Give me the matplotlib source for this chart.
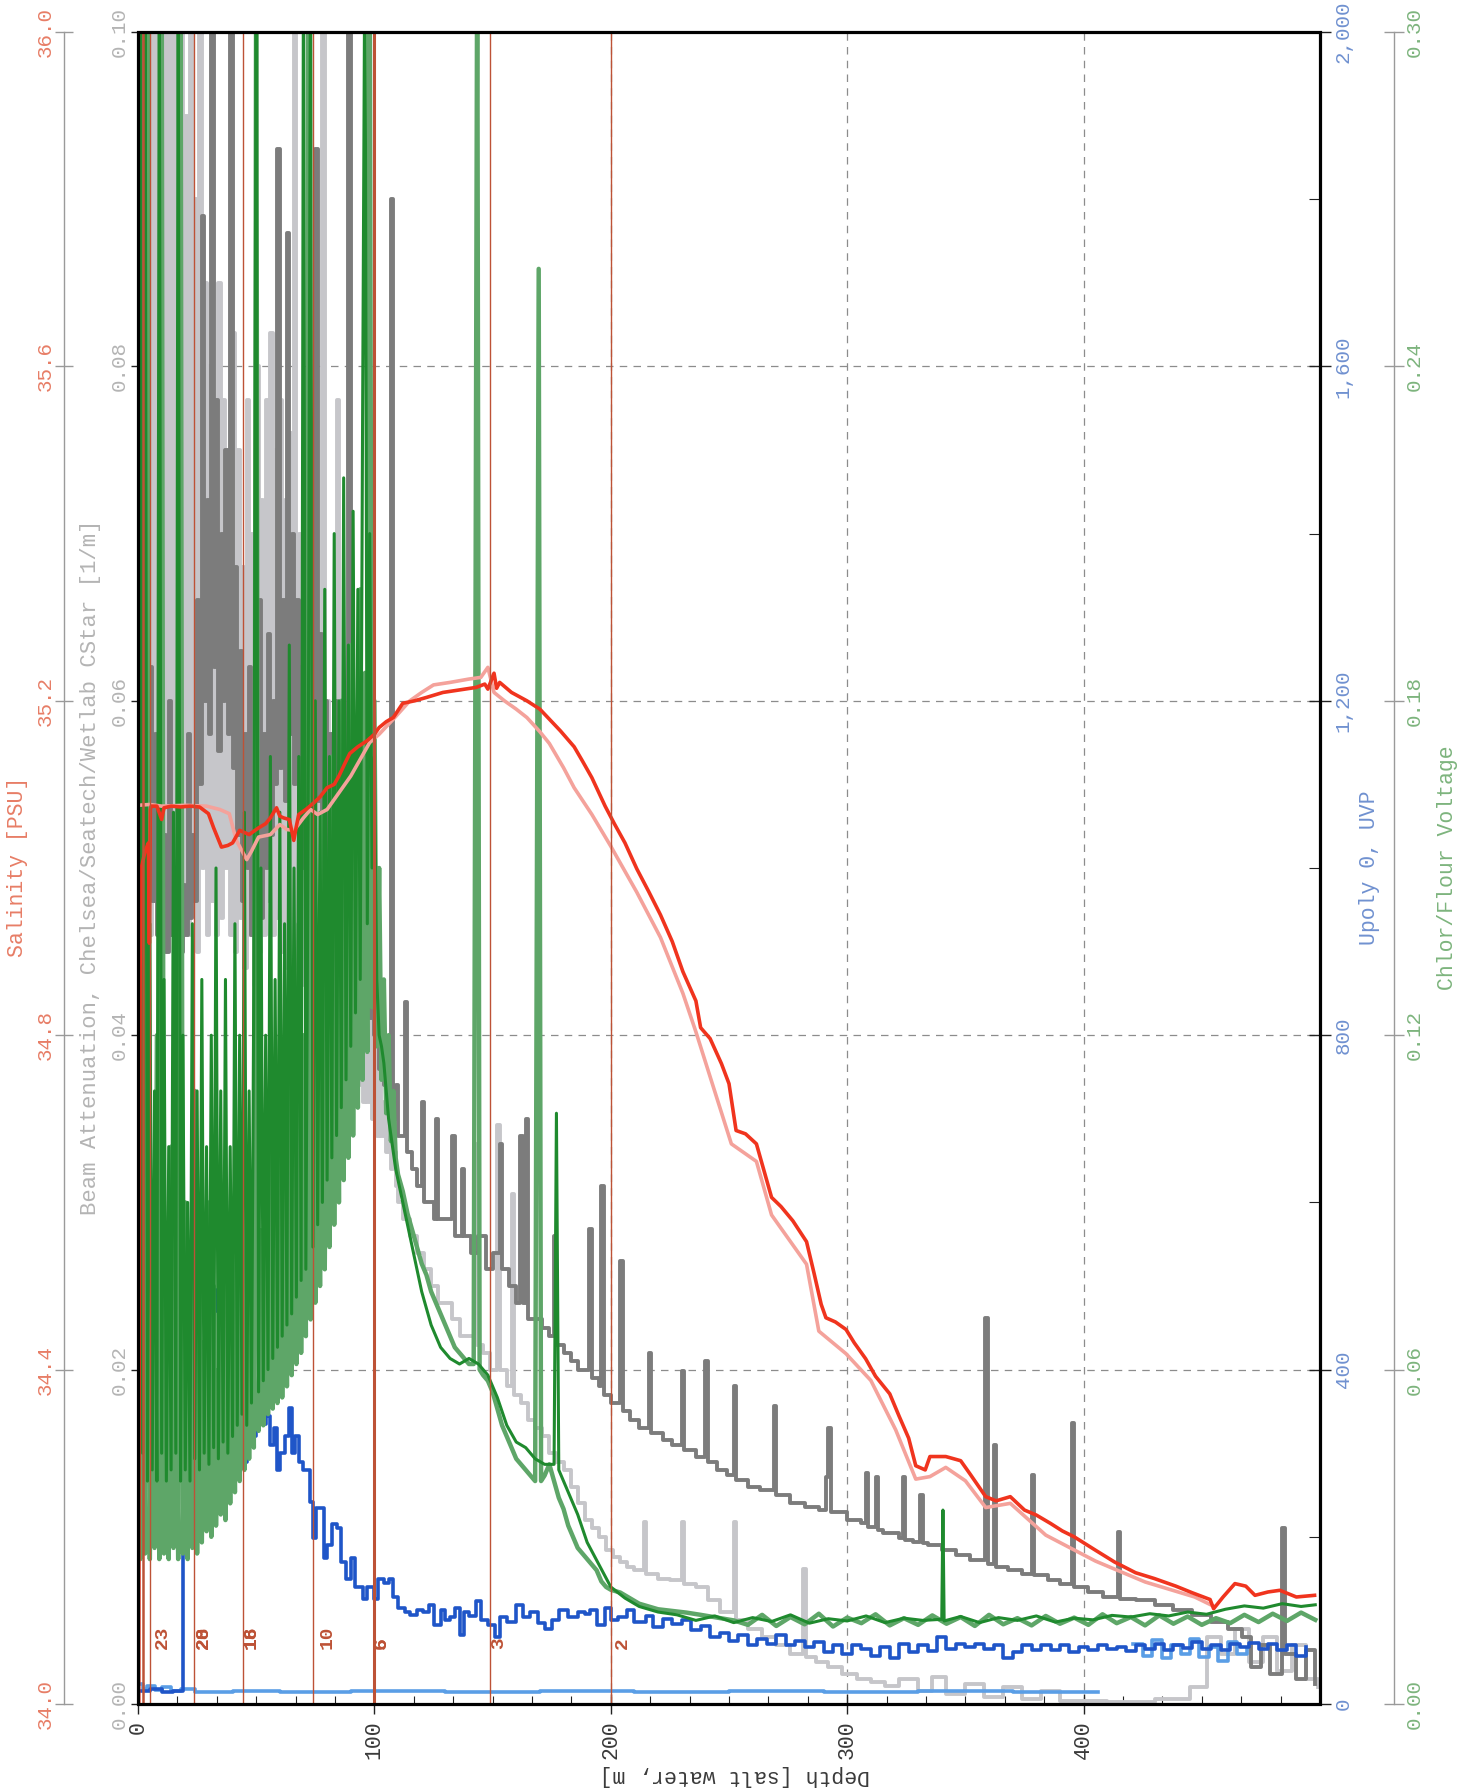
import numpy as np
import matplotlib.pyplot as plt
from matplotlib.ticker import MultipleLocator, FuncFormatter, FormatStrFormatter
from matplotlib.transforms import blended_transform_factory
from matplotlib.patches import Rectangle

plt.rcParams['font.family'] = ['Liberation Mono', 'DejaVu Sans Mono']

# ---------------------------------------------------------------- data
# 1 m bins of the noisy upper layer (0-110 m)
top_depth = np.arange(0, 111)

# beam attenuation [1/m], cast 1 (dark grey)
beam1_top = [0.060, 0.12, 0.055, 0.12, 0.050, 0.062, 0.048, 0.058, 0.046, 0.070,
             0.047, 0.052, 0.045, 0.060, 0.046, 0.050, 0.044, 0.056, 0.045, 0.049,
             0.046, 0.058, 0.047, 0.052, 0.048, 0.066, 0.055, 0.089, 0.060, 0.072,
             0.058, 0.12, 0.062, 0.078, 0.057, 0.070, 0.060, 0.075, 0.058, 0.12,
             0.056, 0.068, 0.052, 0.063, 0.048, 0.058, 0.050, 0.062, 0.046, 0.055,
             0.045, 0.066, 0.047, 0.058, 0.050, 0.064, 0.052, 0.060, 0.055, 0.093,
             0.056, 0.066, 0.054, 0.088, 0.058, 0.070, 0.055, 0.066, 0.052, 0.062,
             0.050, 0.066, 0.054, 0.062, 0.056, 0.093, 0.054, 0.064, 0.052, 0.060,
             0.050, 0.058, 0.049, 0.060, 0.048, 0.057, 0.047, 0.055, 0.046, 0.12,
             0.045, 0.052, 0.044, 0.050, 0.043, 0.048, 0.042, 0.046, 0.041, 0.044,
             0.040, 0.042, 0.038, 0.041, 0.037, 0.039, 0.036, 0.090, 0.035, 0.037,
             0.034]
beam1_tail_depth = [111, 113, 114, 116, 118, 120, 121, 123, 125, 126,
                    127, 130, 132.7, 134, 137, 138, 141, 144, 147, 150,
                    153, 154, 157, 160, 161.7, 163, 164, 165, 168, 171,
                    174, 176, 177, 180, 183, 186, 190.8, 192, 195, 196,
                    197, 200, 204, 205, 208, 212, 216, 217, 222, 226,
                    230, 231, 236, 240, 241, 245, 249, 252, 253, 258,
                    263, 269, 270, 276, 282, 288, 291, 292, 293, 300,
                    306, 308, 309, 312, 313, 315, 322, 323.5, 324.5, 328,
                    331, 332, 334, 340, 346, 352, 358.5, 359.5, 362, 363,
                    368, 374, 378, 379, 385, 390, 395, 396, 402, 408,
                    414.5, 415.5, 422, 430, 438, 446, 454, 461, 467, 471,
                    475, 479, 484, 485, 490, 494, 498]
beam1_tail = [0.034, 0.042, 0.033, 0.032, 0.031, 0.036, 0.030, 0.030, 0.029, 0.035,
              0.029, 0.029, 0.034, 0.028, 0.032, 0.028, 0.027, 0.028, 0.026, 0.027,
              0.0335, 0.026, 0.025, 0.024, 0.034, 0.024, 0.035, 0.023, 0.023, 0.0225,
              0.022, 0.028, 0.0215, 0.021, 0.0205, 0.020, 0.0284, 0.0195, 0.019, 0.031,
              0.0185, 0.018, 0.0265, 0.0175, 0.017, 0.0165, 0.021, 0.0162, 0.0158, 0.0155,
              0.0199, 0.0152, 0.0148, 0.0205, 0.0145, 0.014, 0.0137, 0.019, 0.0134, 0.013,
              0.0128, 0.0178, 0.0125, 0.012, 0.0118, 0.0116, 0.0136, 0.0165, 0.0115, 0.011,
              0.0108, 0.0138, 0.0106, 0.0136, 0.0104, 0.0102, 0.0099, 0.0136, 0.0098, 0.0097,
              0.0125, 0.0096, 0.0095, 0.0092, 0.0089, 0.0086, 0.0231, 0.0084, 0.0155, 0.0082,
              0.0080, 0.0078, 0.0137, 0.0077, 0.0074, 0.0072, 0.0168, 0.0070, 0.0067, 0.0064,
              0.0103, 0.0063, 0.0062, 0.0059, 0.0056, 0.0053, 0.0049, 0.0045, 0.0040, 0.0022,
              0.0035, 0.0018, 0.0105, 0.0030, 0.0015, 0.0032, 0.0012]

# beam attenuation [1/m], cast 2 (light grey)
beam2_top = [0.12, 0.045, 0.12, 0.050, 0.12, 0.046, 0.12, 0.048, 0.12, 0.046,
             0.10, 0.045, 0.12, 0.047, 0.12, 0.046, 0.11, 0.045, 0.12, 0.047,
             0.095, 0.046, 0.12, 0.048, 0.090, 0.045, 0.12, 0.050, 0.085, 0.046,
             0.080, 0.048, 0.072, 0.046, 0.085, 0.047, 0.078, 0.050, 0.070, 0.046,
             0.082, 0.045, 0.075, 0.047, 0.068, 0.044, 0.078, 0.046, 0.070, 0.043,
             0.080, 0.045, 0.072, 0.046, 0.078, 0.048, 0.082, 0.046, 0.075, 0.047,
             0.078, 0.045, 0.072, 0.044, 0.076, 0.043, 0.12, 0.044, 0.070, 0.043,
             0.068, 0.042, 0.066, 0.042, 0.064, 0.041, 0.062, 0.041, 0.12, 0.040,
             0.060, 0.040, 0.058, 0.039, 0.078, 0.039, 0.055, 0.038, 0.052, 0.038,
             0.050, 0.037, 0.048, 0.037, 0.046, 0.036, 0.044, 0.036, 0.042, 0.035,
             0.040, 0.034, 0.038, 0.034, 0.036, 0.033, 0.035, 0.032, 0.033, 0.031,
             0.030]
beam2_tail_depth = [112, 115, 118, 121, 124, 127, 130, 133, 136, 139,
                    142.5, 143.5, 146, 149, 152, 153, 156, 158, 159, 162,
                    165, 168, 171, 174, 177, 180, 183, 186, 189, 192,
                    195, 198, 201, 204, 207, 210, 214, 215, 220, 225,
                    230, 231, 236, 241, 246, 252, 253, 258, 264, 270,
                    276, 281.5, 282.5, 287, 292, 298, 304, 310, 316, 322,
                    330, 336, 342, 350, 358, 366, 374, 382, 390, 398,
                    410, 420, 430, 445, 452, 458, 464, 470, 476, 482,
                    488, 494, 499]
beam2_tail = [0.029, 0.028, 0.027, 0.026, 0.025, 0.024, 0.024, 0.023, 0.022, 0.022,
              0.0335, 0.0215, 0.021, 0.020, 0.0346, 0.020, 0.019, 0.0305, 0.0185, 0.018,
              0.017, 0.0165, 0.016, 0.015, 0.0145, 0.014, 0.013, 0.012, 0.011, 0.0105,
              0.0100, 0.0092, 0.0088, 0.0085, 0.0082, 0.0080, 0.0109, 0.0078, 0.0075, 0.0074,
              0.0109, 0.0072, 0.0070, 0.0062, 0.0055, 0.0109, 0.0050, 0.0045, 0.0040, 0.0035,
              0.0030, 0.0081, 0.0028, 0.0025, 0.0022, 0.0018, 0.0015, 0.0013, 0.0011, 0.0015,
              0.0008, 0.0016, 0.0006, 0.0012, 0.0004, 0.0010, 0.0003, 0.0008, 0.0002, 0.0002,
              0.0001, 0.0001, 0.0003, 0.0010, 0.0040, 0.0030, 0.0045, 0.0025, 0.0040, 0.0020,
              0.0035, 0.0015, 0.0010]

# chlorophyll fluorescence voltage, mid green trace
chl1_top = [0.32, 0.026, 0.11, 0.027, 0.32, 0.026, 0.09, 0.028, 0.12, 0.026,
            0.32, 0.027, 0.085, 0.026, 0.10, 0.028, 0.075, 0.026, 0.32, 0.027,
            0.09, 0.026, 0.07, 0.028, 0.11, 0.027, 0.08, 0.029, 0.065, 0.031,
            0.09, 0.030, 0.075, 0.032, 0.06, 0.034, 0.085, 0.033, 0.065, 0.036,
            0.07, 0.038, 0.10, 0.040, 0.075, 0.042, 0.09, 0.044, 0.08, 0.046,
            0.32, 0.049, 0.085, 0.050, 0.095, 0.052, 0.11, 0.053, 0.09, 0.054,
            0.12, 0.055, 0.10, 0.057, 0.13, 0.059, 0.11, 0.061, 0.14, 0.063,
            0.12, 0.066, 0.32, 0.069, 0.15, 0.072, 0.13, 0.075, 0.16, 0.078,
            0.14, 0.082, 0.17, 0.086, 0.15, 0.090, 0.18, 0.094, 0.16, 0.098,
            0.19, 0.102, 0.17, 0.107, 0.20, 0.112, 0.185, 0.117, 0.32, 0.125,
            0.18, 0.118, 0.15, 0.112, 0.13, 0.106, 0.12, 0.101, 0.11, 0.098,
            0.095]
chl1_tail_depth = [112, 114, 116, 118, 120, 122, 124, 126, 128, 130,
                   132, 134, 136, 138, 140, 142, 143.5, 144.5, 146, 148,
                   150, 152, 154, 156, 158, 160, 162, 164, 166, 168,
                   169.5, 170.5, 172, 174, 176, 178, 180, 182, 184, 186,
                   188, 190, 192, 194, 196, 198, 200, 204, 208, 212,
                   216, 220, 226, 232, 238, 245, 252,
                   258, 264, 270, 276, 282, 288, 294, 300, 306, 312,
                   318, 324, 330, 336, 342, 348, 354, 360, 366, 372,
                   378, 384, 390, 396, 402, 408, 414, 420, 426, 432,
                   438, 444, 450, 456, 462, 468, 474, 480, 486, 492,
                   498]
chl1_tail = [0.092, 0.088, 0.085, 0.082, 0.079, 0.077, 0.074, 0.072, 0.070, 0.068,
             0.066, 0.064, 0.063, 0.062, 0.061, 0.061, 0.32, 0.060, 0.059, 0.058,
             0.056, 0.053, 0.050, 0.048, 0.046, 0.044, 0.043, 0.042, 0.041, 0.040,
             0.2575, 0.040, 0.041, 0.043, 0.040, 0.037, 0.035, 0.032, 0.030, 0.028,
             0.027, 0.026, 0.025, 0.024, 0.022, 0.021, 0.0205, 0.020, 0.019, 0.018,
             0.0175, 0.017, 0.0167, 0.0164, 0.016, 0.0155, 0.015,
             0.0142, 0.0160, 0.0140, 0.0156, 0.0143, 0.0162, 0.0139, 0.0155, 0.0145, 0.0161,
             0.0141, 0.0154, 0.0142, 0.0159, 0.0144, 0.0156, 0.0140, 0.0160, 0.0143, 0.0154,
             0.0141, 0.0158, 0.0144, 0.0155, 0.0142, 0.0161, 0.0145, 0.0156, 0.0141, 0.0159,
             0.0144, 0.0157, 0.0142, 0.0154, 0.0145, 0.0160, 0.0147, 0.0162, 0.0149, 0.0164,
             0.0151]

# chlorophyll fluorescence voltage, dark green trace
chl2_top = [0.050, 0.32, 0.045, 0.32, 0.040, 0.14, 0.042, 0.11, 0.040, 0.32,
            0.045, 0.13, 0.040, 0.10, 0.042, 0.16, 0.045, 0.32, 0.040, 0.12,
            0.042, 0.09, 0.040, 0.14, 0.044, 0.11, 0.042, 0.13, 0.045, 0.10,
            0.043, 0.12, 0.046, 0.15, 0.044, 0.11, 0.047, 0.13, 0.045, 0.10,
            0.048, 0.14, 0.050, 0.12, 0.052, 0.16, 0.050, 0.11, 0.054, 0.13,
            0.32, 0.056, 0.15, 0.058, 0.12, 0.060, 0.17, 0.062, 0.13, 0.064,
            0.16, 0.066, 0.14, 0.068, 0.19, 0.070, 0.15, 0.073, 0.17, 0.076,
            0.32, 0.078, 0.16, 0.32, 0.082, 0.18, 0.086, 0.16, 0.090, 0.20,
            0.094, 0.17, 0.098, 0.21, 0.102, 0.18, 0.107, 0.22, 0.112, 0.19,
            0.118, 0.214, 0.124, 0.20, 0.130, 0.23, 0.32, 0.140, 0.21, 0.150,
            0.17, 0.130, 0.120, 0.118, 0.115, 0.110, 0.105, 0.102, 0.099, 0.096,
            0.094]
chl2_tail_depth = [112, 116, 120, 124, 128, 132, 136, 140, 144, 148,
                   152, 156, 160, 164, 168, 172, 176, 177, 178, 182,
                   186, 190, 195, 200, 206, 212, 220, 228,
                   236, 244, 252, 260, 268, 276, 284, 292, 300, 308,
                   316, 324, 332, 340, 340.5, 341, 348, 356, 364, 372,
                   380, 388, 396, 404, 412, 420, 428, 436, 444, 452,
                   460, 468, 476, 484, 492, 498]
chl2_tail = [0.090, 0.082, 0.074, 0.068, 0.064, 0.062, 0.061, 0.062, 0.061, 0.059,
             0.055, 0.050, 0.047, 0.046, 0.044, 0.043, 0.043, 0.106, 0.042, 0.038,
             0.034, 0.029, 0.025, 0.021, 0.019, 0.0175, 0.0165, 0.016,
             0.0150, 0.0158, 0.0146, 0.0155, 0.0148, 0.0160, 0.0145, 0.0153, 0.0149, 0.0158,
             0.0146, 0.0154, 0.0150, 0.0152, 0.0348, 0.0149, 0.0157, 0.0146, 0.0155, 0.0150,
             0.0158, 0.0147, 0.0154, 0.0151, 0.0159, 0.0156, 0.0162, 0.0158, 0.0165, 0.0161,
             0.0170, 0.0176, 0.0172, 0.0180, 0.0175, 0.0178]

# Upoly 0, UVP - cast 1 (dark blue)
uvp1_depth = [0, 5, 10, 15, 18.5, 19, 21, 23, 25, 27,
              29, 31, 32, 33, 35, 37, 39, 41, 43, 45,
              46, 48, 50, 52, 54, 55, 56, 57.5, 58.6, 60,
              62, 64, 65, 66.5, 68, 70, 72.6, 74, 75.5, 78.5,
              80, 82, 84, 86, 88, 90, 92, 95, 97, 99.7,
              101.7, 104, 106, 108, 110, 113, 115, 118, 120.6, 123,
              125, 128, 130, 132, 134, 136, 138, 140, 143, 145,
              148, 151, 153, 156, 160, 163, 166, 169, 172, 175,
              178, 182, 186, 189, 191, 194, 197.7, 200, 203, 207,
              210, 215, 218, 222, 226, 230, 234, 238, 242, 246,
              250, 254, 258, 262, 266, 270, 274, 278, 282, 286,
              290, 294, 298, 302, 306, 310, 314, 318, 322, 326,
              330, 334, 338, 342, 346, 350, 354, 358, 362, 366,
              370, 374, 378, 382, 386, 390, 394, 398, 402, 406,
              410, 414, 418, 422, 426, 430, 434, 438, 442, 446,
              450, 454, 458, 462, 466, 470, 474, 478, 482, 486,
              490, 494]
uvp1 = [15, 18, 14, 16, 15, 370, 355, 390, 360, 400,
        380, 420, 495, 470, 430, 397, 410, 360, 330, 290,
        346, 320, 350, 335, 378, 345, 310, 330, 280, 300,
        320, 354, 300, 320, 290, 280, 242, 198, 234, 175,
        190, 215, 210, 170, 150, 175, 140, 125, 140, 126,
        149, 145, 149, 128, 115, 110, 107, 112, 110, 118,
        95, 113, 100, 104, 115, 83, 110, 105, 123, 100,
        95, 80, 104, 98, 119, 104, 110, 97, 90, 100,
        112, 104, 110, 108, 113, 95, 115, 100, 104, 112,
        98, 105, 92, 102, 96, 100, 88, 93, 80, 85,
        75, 82, 70, 78, 72, 83, 70, 75, 68, 74,
        62, 71, 60, 70, 66, 58, 68, 55, 72, 62,
        70, 63, 80, 66, 72, 68, 72, 66, 70, 55,
        62, 70, 64, 70, 65, 71, 62, 68, 64, 70,
        66, 68, 63, 70, 66, 72, 65, 70, 67, 74,
        66, 70, 64, 72, 68, 73, 66, 72, 64, 70,
        58, 68]

# Upoly 0, UVP - cast 2 (light blue), gap between 392 and 421 m
uvp2_depth = [0, 2, 4, 7, 10, 14, 18, 24, 40, 60, 90, 130, 170, 210, 250, 290, 330, 370, 392,
              406,
              421, 425, 429, 433, 437, 441, 445, 449, 453, 457, 461, 465, 469]
uvp2 = [24, 18, 22, 17, 20, 16, 18, 14, 15, 14, 15, 14, 15, 14, 15, 14, 15, 14, 14,
        np.nan,
        72, 58, 76, 55, 70, 60, 78, 56, 68, 52, 74, 60, 66]

# salinity [PSU], downcast (red)
sal1_depth = [0.3, 0.6, 0.9, 1.4, 3.0, 4.4, 4.8, 5.2, 5.6, 8,
              10, 11, 14, 18, 22, 26, 29.8, 32, 35.3, 38,
              40, 43, 47, 51, 54, 56, 58.6, 60, 61.5, 64,
              65.9, 67, 68, 71, 74, 77, 80, 83, 85, 87.5,
              89.6, 93, 96.8, 100, 102, 105, 108, 112, 117, 122,
              129, 136, 143, 146.7, 148, 150.6, 151.7, 153, 158, 164.5,
              170, 175, 178.7, 184.5, 188, 192, 197.6, 201.5, 206, 211,
              216, 221, 226, 230.5, 236, 238, 242, 246.8, 250, 253,
              257, 261.6, 265, 268, 272, 277, 282.8, 286, 289, 291,
              295, 299.5, 303, 307.8, 312, 318, 322, 326, 329, 333,
              335, 341.7, 348, 352, 358.6, 363, 369, 375, 380, 386,
              391, 396, 405, 413, 422, 430, 439, 446, 453.5, 455,
              459, 464, 468.6, 472.5, 478, 483, 490, 497.7]
sal1 = [34.00, 34.60, 34.88, 35.00, 35.02, 35.03, 34.91, 35.07, 35.074, 35.074,
        35.058, 35.072, 35.074, 35.073, 35.074, 35.073, 35.065, 35.048, 35.025, 35.027,
        35.030, 35.045, 35.040, 35.048, 35.053, 35.060, 35.072, 35.062, 35.060, 35.058,
        35.033, 35.050, 35.064, 35.070, 35.077, 35.085, 35.096, 35.100, 35.110, 35.125,
        35.137, 35.145, 35.152, 35.160, 35.168, 35.175, 35.180, 35.197, 35.200, 35.204,
        35.210, 35.213, 35.216, 35.220, 35.214, 35.233, 35.215, 35.222, 35.210, 35.200,
        35.190, 35.175, 35.164, 35.145, 35.128, 35.108, 35.074, 35.053, 35.030, 34.999,
        34.972, 34.944, 34.912, 34.876, 34.841, 34.809, 34.796, 34.766, 34.742, 34.686,
        34.682, 34.670, 34.636, 34.606, 34.595, 34.578, 34.553, 34.515, 34.478, 34.462,
        34.457, 34.448, 34.432, 34.413, 34.392, 34.371, 34.344, 34.318, 34.285, 34.280,
        34.296, 34.296, 34.291, 34.275, 34.248, 34.243, 34.248, 34.232, 34.226, 34.216,
        34.207, 34.200, 34.184, 34.170, 34.157, 34.150, 34.141, 34.133, 34.125, 34.114,
        34.128, 34.144, 34.141, 34.130, 34.134, 34.136, 34.128, 34.130]

# salinity [PSU], upcast (pink)
sal2_depth = [0, 5, 10, 20, 29, 34.6, 38.6, 41.6, 46, 48,
              51, 56, 60, 63, 66, 70, 73, 76, 80, 85,
              90, 94, 98, 102, 108, 115, 120, 125, 132, 140,
              145, 148, 150.6, 155, 160, 164.5, 170, 174, 180, 184.5,
              192, 200, 211, 221, 230.5, 236, 251, 261.6, 268, 282.8,
              288, 299.5, 310, 320.5, 329, 335, 341.7, 350, 358.6, 369,
              384, 405, 426, 447, 455]
sal2 = [35.075, 35.076, 35.074, 35.075, 35.074, 35.070, 35.065, 35.033, 35.010, 35.020,
        35.037, 35.040, 35.052, 35.046, 35.045, 35.060, 35.070, 35.064, 35.070, 35.090,
        35.110, 35.130, 35.150, 35.160, 35.178, 35.200, 35.210, 35.219, 35.222, 35.226,
        35.228, 35.240, 35.210, 35.200, 35.190, 35.180, 35.163, 35.149, 35.120, 35.096,
        35.064, 35.026, 34.971, 34.917, 34.850, 34.804, 34.670, 34.649, 34.585, 34.526,
        34.446, 34.419, 34.387, 34.328, 34.269, 34.272, 34.283, 34.267, 34.235, 34.240,
        34.202, 34.171, 34.146, 34.128, 34.117]

# bottle firing depths and their labels
bottle_depth = [2, 5, 23.7, 44.5, 74, 99.7, 149, 200]
bottle_width = [1.8, 1.0, 1.0, 1.0, 1.0, 2.2, 1.0, 1.0]
label_depth = [10.3, 27.5, 27.5, 48, 48, 80, 103, 103, 152.6, 205]
label_text = ["23", "20", "28", "18", "16", "10", "5", "6", "3", "2"]

# ---------------------------------------------------------------- figure
RED, PINK = '#f0341e', '#f4a29b'
DGREY, LGREY = '#7c7c7c', '#c6c6ca'
DGREEN, MGREEN = '#1f8a2e', '#5ea668'
DBLUE, LBLUE = '#1f55c8', '#5a9ee6'
BOTTLE = '#bd5236'
SAL_C, BEAM_C, UVP_C, CHL_C = '#e77d66', '#b4b4b4', '#7091d0', '#7db47d'

W, H = 1473, 1792
L, R, T, B = 138, 1320, 32, 1704
fig = plt.figure(figsize=(W / 100, H / 100), dpi=100)
rect = [L / W, 1 - B / H, (R - L) / W, (B - T) / H]
ax = fig.add_axes(rect)
ax_up = ax.twinx()
ax_chl = ax.twinx()
ax_sal = ax.twinx()

beam1_d = np.concatenate([top_depth, beam1_tail_depth])
beam2_d = np.concatenate([top_depth, beam2_tail_depth])
chl1_d = np.concatenate([top_depth, chl1_tail_depth])
chl2_d = np.concatenate([top_depth, chl2_tail_depth])

ax.plot(beam2_d, beam2_top + beam2_tail, color=LGREY, lw=2.8, drawstyle='steps-post')
ax.plot(beam1_d, beam1_top + beam1_tail, color=DGREY, lw=2.8, drawstyle='steps-post')
ax_up.plot(uvp2_depth, uvp2, color=LBLUE, lw=2.6, drawstyle='steps-post')
ax_up.plot(uvp1_depth, uvp1, color=DBLUE, lw=2.6, drawstyle='steps-post')
ax_chl.plot(chl1_d, chl1_top + chl1_tail, color=MGREEN, lw=3.2)
ax_chl.plot(chl2_d, chl2_top + chl2_tail, color=DGREEN, lw=2.2)
ax_sal.plot(sal2_depth, sal2, color=PINK, lw=2.6)
ax_sal.plot(sal1_depth, sal1, color=RED, lw=2.6)

for d, w in zip(bottle_depth, bottle_width):
    ax_sal.axvline(d, color=BOTTLE, lw=w)
trans = blended_transform_factory(ax_sal.transData, ax_sal.transAxes)
for d, t in zip(label_depth, label_text):
    ax_sal.text(d, 0.033, t, transform=trans, rotation=90, ha='center', va='bottom',
                fontsize=14, color=BOTTLE, fontweight='bold')

# ---------------------------------------------------------------- axes
for a in (ax, ax_up, ax_chl, ax_sal):
    for s in a.spines.values():
        s.set_visible(False)

ax.set_xlim(0, 500)
ax.set_xticks([0, 100, 200, 300, 400])
ax.xaxis.set_minor_locator(MultipleLocator(100 / 6))
ax.tick_params(axis='x', which='major', direction='inout', length=14, width=1.0,
               color='#222222', pad=5, labelsize=15.5, labelcolor='#3a3a3a', labelrotation=90)
ax.tick_params(axis='x', which='minor', direction='in', length=6, width=0.8, color='#222222')
ax.grid(True, which='major', color='#8c8c8c', lw=0.9, linestyle=(0, (6, 5)))

ax.set_ylim(0, 0.1)
ax.set_yticks([0.0, 0.02, 0.04, 0.06, 0.08, 0.10])
ax.yaxis.set_major_formatter(FormatStrFormatter('%.2f'))
ax.yaxis.set_minor_locator(MultipleLocator(0.01))
ax.tick_params(axis='y', which='major', direction='inout', length=10, width=1.0,
               color='#222222', pad=2, labelsize=15, labelcolor=BEAM_C, labelrotation=90)
ax.tick_params(axis='y', which='minor', direction='in', length=7, width=0.8, color='#222222')

ax_up.set_ylim(0, 2000)
ax_up.set_yticks([0, 400, 800, 1200, 1600, 2000])
ax_up.yaxis.set_major_formatter(FuncFormatter(lambda v, p: f"{int(round(v)):,}"))
ax_up.yaxis.set_minor_locator(MultipleLocator(200))
ax_up.tick_params(axis='y', which='major', direction='inout', length=16, width=1.0,
                  color='#222222', pad=2, labelsize=15, labelcolor=UVP_C, labelrotation=90)
ax_up.tick_params(axis='y', which='minor', direction='in', length=8, width=0.8, color='#222222')

ax_chl.set_ylim(0, 0.3)
ax_chl.set_yticks([0.0, 0.06, 0.12, 0.18, 0.24, 0.30])
ax_chl.yaxis.set_major_formatter(FormatStrFormatter('%.2f'))
ax_chl.spines['right'].set_visible(True)
ax_chl.spines['right'].set_position(('axes', 1.0626))
ax_chl.spines['right'].set_color('#9a9a9a')
ax_chl.spines['right'].set_linewidth(1.0)
ax_chl.tick_params(axis='y', which='major', direction='inout', length=14, width=1.0,
                   color='#9a9a9a', pad=1, labelsize=15, labelcolor=CHL_C, labelrotation=90)

ax_sal.set_ylim(34, 36)
ax_sal.yaxis.set_ticks_position('left')
ax_sal.set_yticks([34.0, 34.4, 34.8, 35.2, 35.6, 36.0])
ax_sal.yaxis.set_major_formatter(FormatStrFormatter('%.1f'))
ax_sal.spines['left'].set_visible(True)
ax_sal.spines['left'].set_position(('axes', -0.0626))
ax_sal.spines['left'].set_color('#9a9a9a')
ax_sal.spines['left'].set_linewidth(1.0)
ax_sal.tick_params(axis='y', which='major', direction='inout', length=13, width=1.0,
                   color='#9a9a9a', pad=0, labelsize=15, labelcolor=SAL_C, labelrotation=90)

for a in (ax, ax_up, ax_chl, ax_sal):
    for lbl in a.get_yticklabels():
        lbl.set_verticalalignment('center')

# frame drawn above all data
fig.add_artist(Rectangle((rect[0], rect[1]), rect[2], rect[3], transform=fig.transFigure,
                         fill=False, lw=2.3, ec='black', zorder=5))

# axis titles
fig.text(18 / W, 0.516, "Salinity [PSU]", rotation=90, ha='center', va='center',
         fontsize=15.5, color=SAL_C)
fig.text(91 / W, 0.516, "Beam Attenuation, Chelsea/Seatech/Wetlab CStar [1/m]", rotation=90,
         ha='center', va='center', fontsize=16, color=BEAM_C)
fig.text(1370 / W, 0.516, "Upoly 0, UVP", rotation=90, ha='center', va='center',
         fontsize=15.5, color=UVP_C)
fig.text(1447 / W, 0.516, "Chlor/Flour Voltage", rotation=90, ha='center', va='center',
         fontsize=15.5, color=CHL_C)
fig.text(735 / W, 17 / H, "Depth [salt water, m]", rotation=180, ha='center', va='center',
         fontsize=15.5, color='#3a3a3a')

fig.savefig("out.png", dpi=100)
